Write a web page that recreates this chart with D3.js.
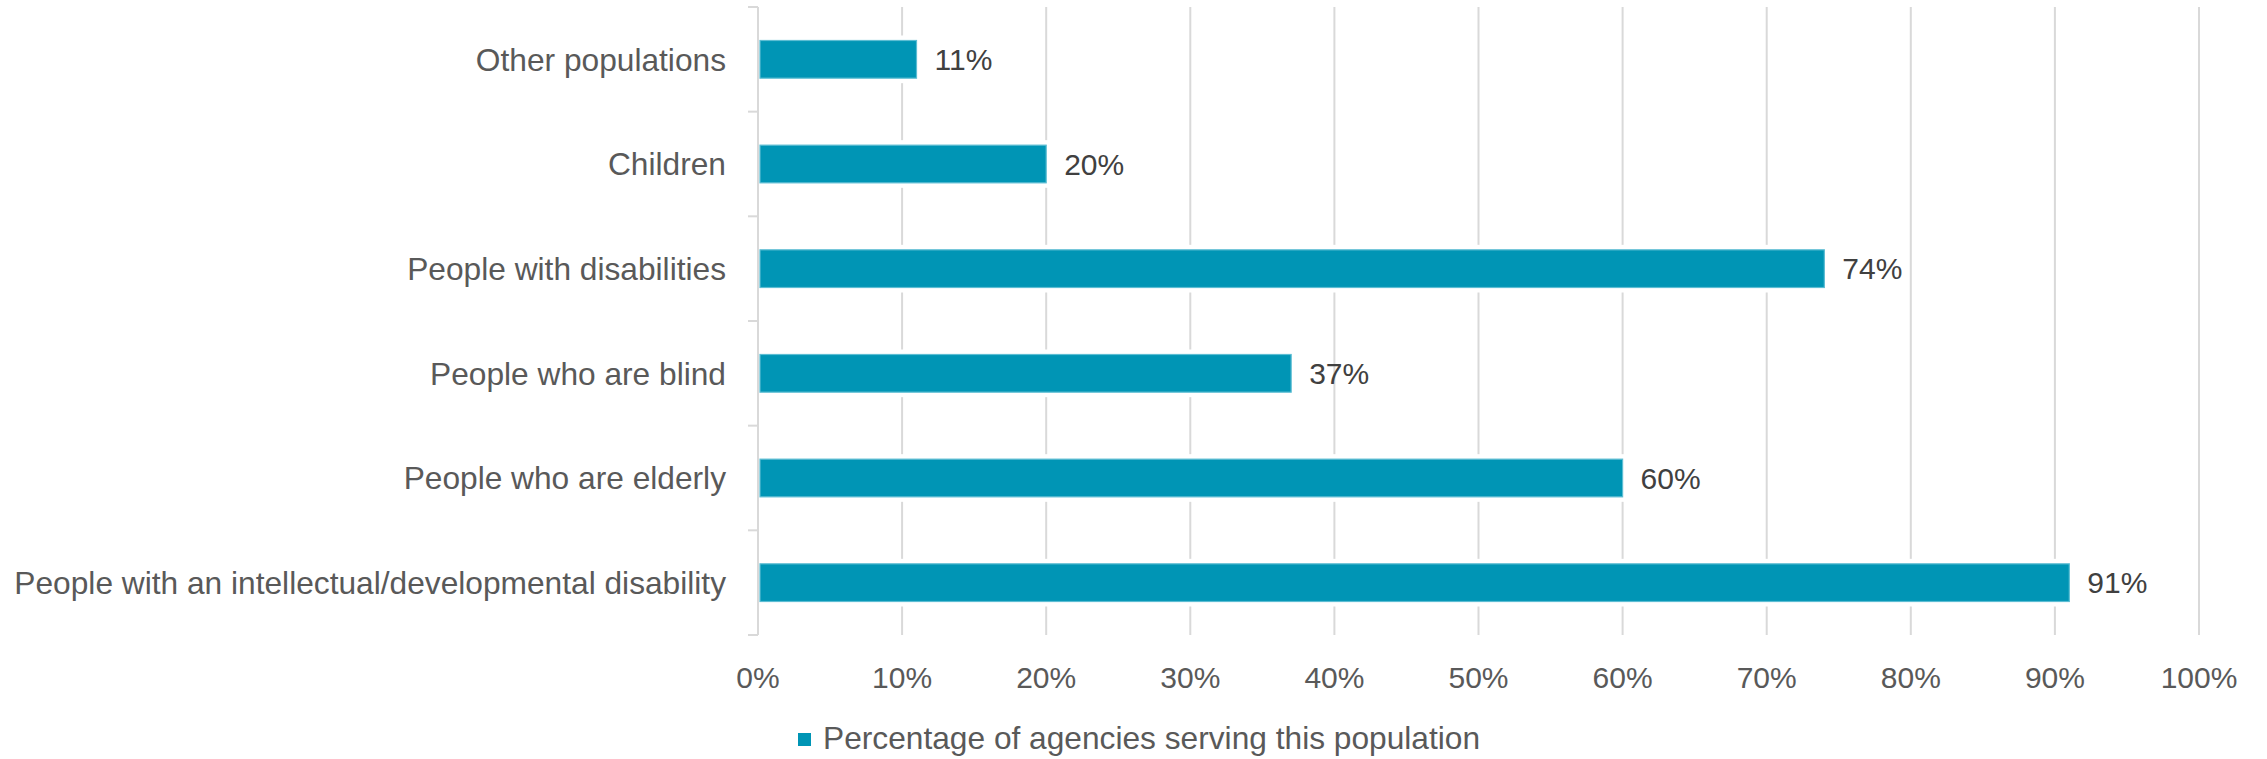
<!DOCTYPE html>
<html><head><meta charset="utf-8">
<script src="https://cdn.jsdelivr.net/npm/d3@7"></script>
<style>html,body{margin:0;padding:0;background:#fff;}svg{display:block;}</style>
</head><body>
<script>
const categories = ["Other populations","Children","People with disabilities","People who are blind","People who are elderly","People with an intellectual/developmental disability"];
const values = [11,20,74,37,60,91];
const tickValues = [0,10,20,30,40,50,60,70,80,90,100];
const seriesName = "Percentage of agencies serving this population";

const W = 2267, H = 759;
const plotLeft = 758, plotRight = 2199, plotTop = 7, plotBottom = 635;
const font = "'Liberation Sans', Arial, sans-serif";

const svg = d3.select("body").append("svg").attr("width", W).attr("height", H);

const x = d3.scaleLinear().domain([0,100]).range([plotLeft, plotRight]);
const y = d3.scaleBand().domain(categories).range([plotTop, plotBottom]).paddingInner(0.64).paddingOuter(0.32);
const step = y.step();

// gridlines
svg.append("g").selectAll("line").data(tickValues.slice(1)).join("line")
  .attr("x1", d => x(d)).attr("x2", d => x(d))
  .attr("y1", plotTop).attr("y2", plotBottom)
  .attr("stroke", "#d9d9d9").attr("stroke-width", 2);

// white halos
svg.append("g").selectAll("rect").data(values).join("rect")
  .attr("x", x(0)).attr("y", (d,i) => y(categories[i]) - 5)
  .attr("width", d => x(d) - x(0) + 5).attr("height", y.bandwidth() + 10)
  .attr("fill", "#fff");

// y axis line + ticks
svg.append("line").attr("x1", plotLeft).attr("x2", plotLeft).attr("y1", plotTop).attr("y2", plotBottom)
  .attr("stroke", "#d9d9d9").attr("stroke-width", 2);
const bounds = d3.range(categories.length + 1).map(i => plotTop + i * step);
svg.append("g").selectAll("line").data(bounds).join("line")
  .attr("x1", plotLeft - 10).attr("x2", plotLeft).attr("y1", d => d).attr("y2", d => d)
  .attr("stroke", "#d9d9d9").attr("stroke-width", 2);

// bars
svg.append("g").selectAll("rect").data(values).join("rect")
  .attr("x", x(0) + 2).attr("y", (d,i) => y(categories[i]))
  .attr("width", d => x(d) - x(0) - 2).attr("height", y.bandwidth())
  .attr("fill", "#0095b5").attr("stroke", "#5cbdd3").attr("stroke-width", 1.2);

// value labels
svg.append("g").selectAll("text").data(values).join("text")
  .attr("x", d => x(d) + 18).attr("y", (d,i) => y(categories[i]) + y.bandwidth()/2)
  .attr("dy", "0.36em")
  .attr("font-family", font).attr("font-size", 30).attr("fill", "#404040")
  .text(d => d + "%");

// category labels
svg.append("g").selectAll("text").data(categories).join("text")
  .attr("x", plotLeft - 32).attr("y", d => y(d) + y.bandwidth()/2)
  .attr("dy", "0.36em").attr("text-anchor", "end")
  .attr("font-family", font).attr("font-size", 31.7).attr("fill", "#595959")
  .text(d => d);

// x tick labels
svg.append("g").selectAll("text").data(tickValues).join("text")
  .attr("x", d => x(d)).attr("y", 688).attr("text-anchor", "middle")
  .attr("font-family", font).attr("font-size", 30).attr("fill", "#595959")
  .text(d => d + "%");

// legend
const lg = svg.append("g");
lg.append("rect").attr("x", 798).attr("y", 733).attr("width", 13).attr("height", 13).attr("fill", "#0095b5");
lg.append("text").attr("x", 823).attr("y", 749)
  .attr("font-family", font).attr("font-size", 31.7).attr("fill", "#595959")
  .text(seriesName);
</script>
</body></html>
